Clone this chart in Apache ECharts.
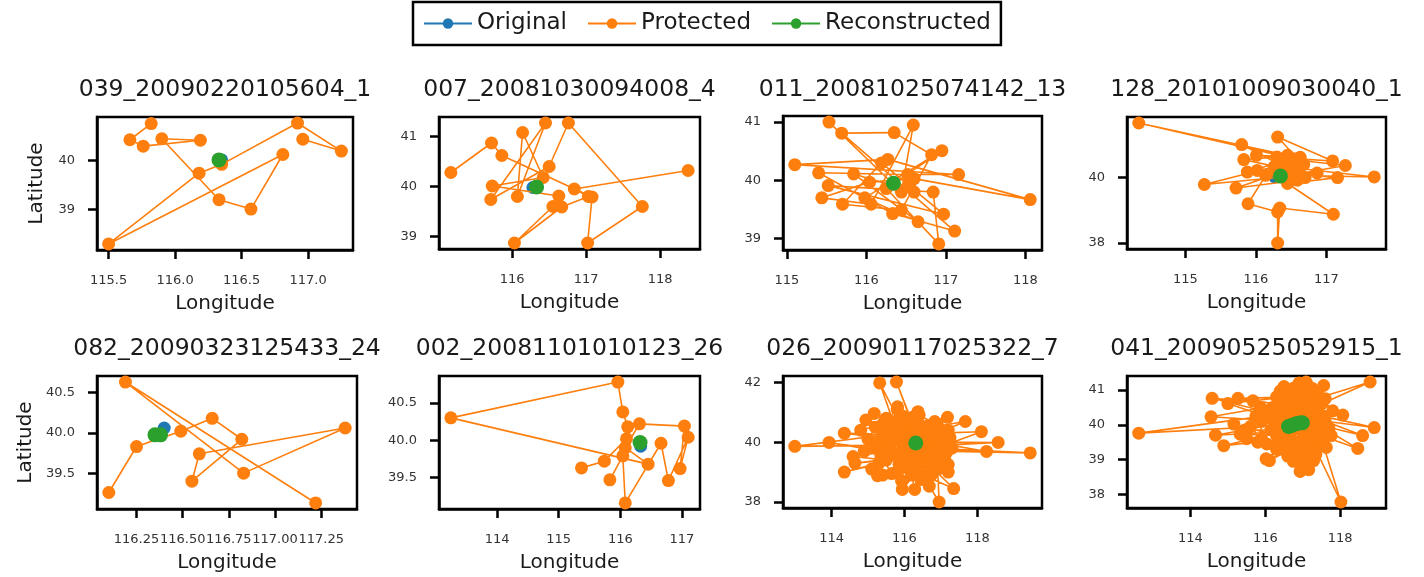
<!DOCTYPE html>
<html>
<head>
<meta charset="utf-8">
<script src="https://cdn.jsdelivr.net/npm/echarts@6/dist/echarts.min.js"></script>
<style>
  html, body { margin: 0; padding: 0; background: #fff; }
  #chart { width: 1424px; height: 577px; }
</style>
</head>
<body>
<div id="chart"></div>
<script>
// trajectory ids (subplot titles)
var titles = ['039_20090220105604_1', '007_20081030094008_4', '011_20081025074142_13', '128_20101009030040_1',
              '082_20090323125433_24', '002_20081101010123_26', '026_20090117025322_7', '041_20090525052915_1'];
var seriesNames = ['Original', 'Protected', 'Reconstructed'];

// tick positions per subplot
var xTicks = [[115.5, 116, 116.5, 117], [116, 117, 118], [115, 116, 117, 118], [115, 116, 117],
              [116.25, 116.5, 116.75, 117, 117.25], [114, 115, 116, 117], [114, 116, 118], [114, 116, 118]];
var yTicks = [[39, 40], [39, 40, 41], [39, 40, 41], [38, 40],
              [39.5, 40, 40.5], [39.5, 40, 40.5], [38, 40, 42], [38, 39, 40, 41]];
var xDecimals = [1, 0, 0, 0, 2, 0, 0, 0];
var yDecimals = [0, 0, 0, 0, 1, 1, 0, 0];

// [longitude, latitude]
var original1 = [[116.35, 40.01]];
var original2 = [[116.28, 39.98], [116.33, 39.99]];
var original3 = [[116.33, 39.95]];
var original4 = [[116.27, 40.02], [116.35, 40.05]];
var original5 = [[116.40, 40.06]];
var original6 = [[116.33, 39.92]];
var original7 = [[116.31, 39.97]];
var original8 = [[116.75, 40.00], [116.85, 40.05]];

var reconstructed1 = [[116.33, 40.01]];
var reconstructed2 = [[116.33, 39.99]];
var reconstructed3 = [[116.34, 39.95]];
var reconstructed4 = [[116.35, 40.05]];
var reconstructed5 = [[116.35, 39.975], [116.38, 39.975]];
var reconstructed6 = [[116.32, 39.97]];
var reconstructed7 = [[116.31, 39.97]];
var reconstructed8 = [[116.62, 39.95], [116.72, 39.99], [116.82, 40.03], [116.92, 40.05], [116.99, 40.06]];

var protected1 = [[115.82, 40.75], [115.66, 40.42], [115.76, 40.29], [116.19, 40.41], [115.90, 40.44],
  [116.33, 39.20], [116.57, 39.01], [116.81, 40.12], [115.50, 38.30], [116.18, 39.74], [116.35, 39.92],
  [116.92, 40.76], [117.25, 40.19], [116.96, 40.43]];

var protected2 = [[115.17, 40.28], [115.72, 40.87], [115.86, 40.62], [117.08, 39.79], [117.02, 38.87],
  [117.76, 39.60], [116.76, 41.27], [116.50, 40.40], [115.71, 39.74], [116.45, 41.27], [116.07, 39.80],
  [116.14, 41.08], [116.42, 40.18], [115.73, 40.01], [116.63, 39.81], [116.55, 39.60], [116.03, 38.87],
  [116.67, 39.59], [117.03, 39.80], [116.84, 39.95], [118.38, 40.32]];

var protected3 = [[115.53, 41.00], [116.44, 39.80], [116.59, 40.95], [116.06, 39.59], [115.44, 39.70],
  [116.04, 39.97], [116.60, 40.03], [118.06, 39.67], [116.27, 40.36], [115.10, 40.27], [117.16, 40.10],
  [116.52, 40.10], [115.40, 40.13], [116.33, 39.43], [117.11, 39.13], [115.69, 40.81], [116.35, 40.82],
  [116.82, 40.44], [116.44, 39.49], [115.70, 39.59], [116.19, 40.30], [116.97, 39.42], [115.52, 39.91],
  [116.84, 39.80], [116.91, 38.91], [116.25, 39.86], [116.95, 40.51], [115.98, 39.70], [116.65, 39.29],
  [115.84, 40.11], [116.60, 39.80], [116.54, 39.94]];

var protected4 = [[116.45, 40.68], [114.34, 41.67], [116.54, 40.58], [117.09, 40.51], [116.31, 41.24],
  [116.61, 40.53], [117.27, 40.37], [116.49, 40.07], [117.68, 40.02], [116.40, 40.33], [115.80, 41.01],
  [116.63, 40.07], [115.27, 39.79], [116.26, 40.33], [116.50, 40.45], [116.60, 40.30], [116.42, 40.20],
  [116.68, 40.40], [115.72, 39.68], [116.59, 39.92], [116.55, 39.95], [116.38, 40.50], [115.88, 40.17],
  [116.87, 40.14], [116.70, 40.00], [116.47, 39.88], [116.02, 40.22], [117.16, 40.00], [116.45, 39.82],
  [117.10, 38.88], [116.34, 39.07], [116.31, 38.00], [116.31, 38.95], [115.89, 39.20], [116.14, 40.07],
  [116.54, 40.22], [115.83, 40.55], [116.30, 40.63], [116.01, 40.68], [116.63, 40.62]];

var protected5 = [[116.10, 39.26], [116.25, 39.83], [116.49, 40.02], [116.66, 40.18], [116.82, 39.92],
  [116.55, 39.40], [116.59, 39.74], [117.38, 40.06], [116.83, 39.50], [116.19, 40.63], [117.22, 39.13]];

var protected6 = [[115.37, 39.63], [115.74, 39.72], [116.10, 40.02], [116.12, 40.18], [116.04, 40.38],
  [115.96, 40.78], [113.25, 40.30], [116.45, 39.68], [116.08, 39.90], [116.31, 40.22], [117.04, 40.19],
  [116.97, 39.62], [117.10, 40.04], [116.78, 39.46], [116.66, 39.96], [116.08, 39.16], [116.04, 39.79],
  [115.83, 39.47]];

var protected7 = [[116.1, 40.0], [115.8, 40.3], [112.99, 39.86], [115.6, 39.9], [116.3, 39.5], [113.93, 39.99],
  [115.5, 39.7], [116.2, 40.2], [114.35, 40.30], [115.7, 40.1], [116.0, 39.6], [115.32, 41.98], [115.9, 40.6],
  [116.4, 40.0], [115.78, 42.01], [116.2, 40.7], [115.81, 41.18], [116.5, 40.4], [115.17, 40.96], [115.6, 40.5],
  [114.94, 40.74], [115.4, 40.2], [116.7, 39.9], [114.59, 39.52], [115.5, 39.4], [114.64, 39.30], [116.1, 39.5],
  [114.35, 39.00], [115.3, 39.3], [115.26, 38.88], [116.0, 39.2], [115.92, 38.70], [116.4, 39.1], [115.94, 38.42],
  [116.2, 38.9], [116.28, 38.42], [116.6, 39.3], [116.68, 38.53], [116.9, 39.4], [116.95, 38.00], [116.5, 38.9],
  [117.35, 38.45], [116.8, 39.1], [116.74, 38.90], [116.3, 39.7], [117.20, 39.25], [116.6, 39.8], [119.45, 39.64],
  [117.0, 39.7], [118.25, 39.69], [116.8, 40.0], [118.57, 39.99], [117.1, 39.9], [118.11, 40.35], [116.9, 40.3],
  [117.67, 40.69], [116.7, 40.5], [117.18, 40.83], [116.4, 40.6], [116.83, 40.69], [116.1, 40.4], [116.37, 41.02],
  [115.9, 40.9], [115.5, 40.8], [115.2, 40.5], [115.0, 40.1], [114.9, 39.7], [115.2, 39.8], [115.7, 39.6],
  [116.0, 39.9], [116.5, 39.5], [116.8, 39.7], [117.1, 39.5], [117.3, 39.8], [117.0, 40.2], [116.6, 40.1],
  [116.2, 39.3], [115.8, 39.0], [115.4, 38.9], [115.1, 39.1], [115.6, 40.2], [116.3, 40.3], [116.9, 40.6],
  [117.2, 40.4], [116.4, 40.9], [115.8, 41.1], [115.4, 40.6], [114.8, 40.4], [115.3, 40.0], [115.9, 39.4],
  [116.6, 38.8], [117.2, 39.0], [116.7, 39.6], [116.1, 39.8], [115.7, 40.4], [116.0, 40.8],
  [115.45, 40.45], [115.75, 40.7], [116.05, 40.55], [116.35, 40.45], [116.65, 40.25], [116.95, 39.95],
  [116.75, 39.35], [116.45, 39.25], [116.15, 39.05], [115.85, 39.25], [115.55, 39.55], [115.25, 39.95],
  [115.65, 40.05], [115.95, 40.25], [116.25, 39.95], [116.55, 39.75], [116.85, 39.55], [117.15, 39.65],
  [116.65, 40.55], [116.25, 40.85], [115.95, 39.85], [115.35, 39.55], [115.65, 38.95], [116.45, 38.75],
  [116.95, 39.15], [117.25, 40.15], [116.05, 40.25], [116.45, 39.65], [115.85, 40.45], [116.35, 40.15]];

var protected8 = [[116.8, 40.0], [112.62, 39.76], [116.3, 40.3], [114.58, 40.76], [116.5, 40.6], [114.55, 40.23],
  [116.4, 40.1], [115.00, 40.61], [116.6, 40.8], [115.27, 40.76], [116.9, 40.5], [115.67, 40.69], [116.5, 40.3],
  [115.87, 40.50], [116.7, 40.1], [114.67, 39.70], [116.4, 39.8], [114.89, 39.40], [116.6, 39.6], [115.16, 40.02],
  [116.3, 39.7], [115.33, 39.73], [116.5, 39.4], [116.02, 39.02], [116.8, 39.5], [116.11, 38.97], [116.7, 39.3],
  [116.04, 39.45], [117.0, 39.6], [116.93, 38.66], [117.1, 39.2], [117.16, 38.71], [116.9, 39.0], [117.29, 38.97],
  [117.3, 39.4], [118.02, 37.78], [117.5, 39.6], [117.63, 39.35], [117.2, 39.8], [118.47, 39.32], [117.4, 40.0],
  [118.60, 39.69], [117.6, 40.1], [118.91, 39.92], [117.3, 40.3], [118.07, 40.28], [117.5, 40.6], [118.80, 41.23],
  [117.2, 40.7], [117.56, 41.13], [117.0, 40.9], [117.09, 41.23], [116.8, 41.0], [116.40, 40.97], [116.6, 40.4],
  [117.76, 39.69], [117.1, 40.2], [116.9, 40.8], [116.5, 41.1], [116.3, 40.8], [116.2, 40.5], [116.4, 39.5],
  [116.6, 39.1], [117.0, 39.3], [117.2, 39.5], [117.7, 39.9], [117.4, 40.4], [117.1, 40.5], [116.9, 40.3],
  [116.7, 39.8], [117.0, 40.0], [116.6, 40.0], [117.3, 39.7], [116.8, 39.2], [117.4, 40.9], [117.8, 40.4],
  [116.9, 41.2], [116.1, 40.2], [116.3, 39.3], [115.9, 39.6], [115.6, 39.95], [115.9, 40.1], [115.5, 39.6],
  [115.8, 39.5], [116.0, 40.4], [116.8, 40.6], [117.1, 40.0],
  [116.45, 40.45], [116.75, 40.75], [117.05, 40.65], [117.35, 40.55], [117.55, 40.25], [117.25, 40.05],
  [116.95, 39.85], [116.65, 39.65], [116.35, 39.85], [116.25, 40.15], [116.55, 40.15], [116.85, 40.35],
  [117.15, 40.35], [117.45, 39.85], [117.15, 39.65], [116.85, 39.45], [116.55, 39.25], [116.75, 38.95],
  [117.05, 38.95], [117.35, 39.15], [116.45, 40.85], [116.75, 41.05], [117.25, 41.05], [117.6, 40.75],
  [116.9, 40.1], [116.35, 39.45], [117.55, 39.45], [116.15, 39.85], [115.45, 39.85], [115.75, 40.25]];

var originals = [original1, original2, original3, original4, original5, original6, original7, original8];
var protecteds = [protected1, protected2, protected3, protected4, protected5, protected6, protected7, protected8];
var reconstructeds = [reconstructed1, reconstructed2, reconstructed3, reconstructed4,
                      reconstructed5, reconstructed6, reconstructed7, reconstructed8];

var colors = ['#1f77b4', '#ff7f0e', '#2ca02c'];
var FONT = 'DejaVu Sans';
var TEXT = '#1a1a1a';

// plot boxes [left, top, width, height]
var boxes = [[97, 117, 256, 133], [439, 117, 261, 132], [783, 116, 259, 134], [1127, 117, 259, 132],
             [97, 376, 260, 133], [439, 376, 261, 133], [783, 376, 259, 132], [1127, 376, 259, 132]];

function padMin(v) { return v.min - (v.max - v.min) * 0.05; }
function padMax(v) { return v.max + (v.max - v.min) * 0.05; }

var grid = [], xAxis = [], yAxis = [], title = [], series = [];

boxes.forEach(function (b, i) {
    grid.push({ left: b[0], top: b[1], width: b[2], height: b[3], show: true,
                borderColor: '#000', borderWidth: 2.5, backgroundColor: 'transparent' });
    title.push({
        text: titles[i], left: b[0] + b[2] / 2 - 5, top: (i < 4 ? 117 : 376) - 44, textAlign: 'center',
        textStyle: { fontFamily: FONT, fontSize: 23.5, fontWeight: 'normal', color: TEXT }
    });
    var xd = xDecimals[i], yd = yDecimals[i];
    xAxis.push({
        gridIndex: i, type: 'value', min: padMin, max: padMax,
        splitLine: { show: false },
        axisLine: { show: true, onZero: false, lineStyle: { color: '#000', width: 2.5 } },
        axisTick: { show: true, length: 9, customValues: xTicks[i], lineStyle: { color: '#000', width: 2.5 } },
        axisLabel: { customValues: xTicks[i], margin: 24, fontFamily: FONT, fontSize: 13, color: '#333',
                     formatter: function (v) { return v.toFixed(xd); } },
        name: 'Longitude', nameLocation: 'middle', nameGap: 44,
        nameTextStyle: { fontFamily: FONT, fontSize: 20, color: TEXT }
    });
    var ya = {
        gridIndex: i, type: 'value', min: padMin, max: padMax,
        splitLine: { show: false },
        axisLine: { show: true, onZero: false, lineStyle: { color: '#000', width: 2.5 } },
        axisTick: { show: true, length: 9, customValues: yTicks[i], lineStyle: { color: '#000', width: 2.5 } },
        axisLabel: { customValues: yTicks[i], margin: 22, fontFamily: FONT, fontSize: 13, color: '#333',
                     formatter: function (v) { return v.toFixed(yd); } }
    };
    if (i % 4 === 0) {
        ya.name = 'Latitude';
        ya.nameLocation = 'middle';
        ya.nameRotate = 90;
        ya.nameGap = i === 0 ? 50 : 61;
        ya.nameTextStyle = { fontFamily: FONT, fontSize: 20, color: TEXT };
    }
    yAxis.push(ya);

    [originals[i], protecteds[i], reconstructeds[i]].forEach(function (d, k) {
        series.push({
            type: 'line', name: seriesNames[k], xAxisIndex: i, yAxisIndex: i, data: d,
            symbol: 'circle', symbolSize: k === 2 ? 15 : 13, showSymbol: true,
            lineStyle: { color: colors[k], width: 1.6 },
            itemStyle: { color: colors[k] },
            z: 2 + k, animation: false, silent: true
        });
    });
});

var chart = echarts.init(document.getElementById('chart'), null, { renderer: 'canvas' });
chart.setOption({
    backgroundColor: '#fff',
    animation: false,
    title: title,
    legend: {
        data: seriesNames, left: 413, top: 2, orient: 'horizontal',
        itemWidth: 48, itemHeight: 13, itemGap: 20, padding: [10, 10],
        borderColor: '#000', borderWidth: 2.5, borderRadius: 0,
        textStyle: { fontFamily: FONT, fontSize: 23, color: TEXT }
    },
    grid: grid,
    xAxis: xAxis,
    yAxis: yAxis,
    series: series
});
</script>
</body>
</html>
